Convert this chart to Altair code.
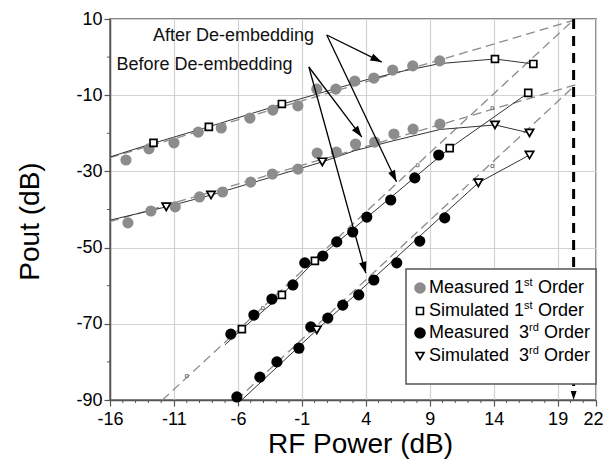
import math
import altair as alt
import pandas as pd

# ---------------- data ----------------
# measured 1st order (grey circles)
after_meas1_x = [-14.75, -12.95, -11.0, -9.1, -7.3, -5.06, -3.27, -1.31, 0.17, 1.66, 3.14, 4.63, 6.1, 7.67, 9.78]
after_meas1_y = [-27.0, -24.1, -22.5, -19.7, -18.6, -16.0, -13.9, -12.8, -8.4, -8.4, -6.3, -5.5, -3.4, -2.3, -1.0]
before_meas1_x = [-14.6, -12.8, -10.9, -9.0, -7.2, -5.0, -3.3, -1.3, 0.2, 1.7, 3.2, 4.7, 6.2, 7.7, 9.8]
before_meas1_y = [-43.5, -40.4, -39.3, -36.7, -35.4, -32.8, -30.7, -29.4, -25.2, -24.9, -22.8, -22.3, -20.2, -18.9, -17.6]
# measured 3rd order (black circles)
after_meas3_x = [-6.55, -4.75, -3.34, -1.70, -0.77, 0.64, 1.73, 2.98, 4.08, 5.95, 7.83, 9.70]
after_meas3_y = [-72.7, -67.7, -63.5, -59.8, -54.0, -52.2, -48.5, -45.9, -42.0, -37.5, -31.7, -25.7]
before_meas3_x = [-6.08, -4.28, -2.95, -1.23, -0.30, 1.03, 2.20, 3.45, 4.63, 6.42, 8.22, 10.17]
before_meas3_y = [-89.2, -84.0, -80.0, -76.4, -70.8, -68.5, -65.1, -62.4, -58.5, -54.0, -48.3, -42.2]

# simulated markers
after_sim1_x = [-12.6, -8.27, -2.56, 14.1, 17.1]
after_sim1_y = [-22.5, -18.3, -12.3, -0.5, -1.8]
after_sim3_x = [-5.69, -2.56, 0.02, 10.56, 16.7]
after_sim3_y = [-71.4, -62.4, -53.5, -23.9, -9.4]
before_sim1_x = [-11.6, -8.1, 0.6, 14.1, 16.8]
before_sim1_y = [-39.3, -36.2, -27.5, -17.8, -19.9]
before_sim3_x = [0.17, 12.8, 16.8]
before_sim3_y = [-71.6, -33.0, -25.7]

# simulated curves (solid thin lines)
after_curve1_x = [-16, -12.6, -8.3, -2.6, 1, 4, 7, 9.8, 14.1, 17.1]
after_curve1_y = [-26.2, -22.6, -18.3, -12.4, -8.9, -6.0, -3.6, -1.7, -0.5, -1.8]
before_curve1_x = [-16, -11.6, -8.1, 0.6, 3.1, 6.1, 9.8, 14.1, 16.8]
before_curve1_y = [-42.8, -39.3, -36.2, -27.5, -24.6, -22.0, -19.0, -17.8, -19.9]
after_curve3_x = [-7.0, -5.69, -2.56, 0.02, 10.56, 16.7]
after_curve3_y = [-75.5, -71.4, -62.4, -53.5, -23.9, -9.4]
before_curve3_x = [-5.7, 0.17, 12.8, 16.8]
before_curve3_y = [-90.0, -71.6, -33.0, -25.7]

# extrapolation (dashed) lines: start / end
after_fit1_x = [-16, 20.2]
after_fit1_y = [-26.4, 9.6]
after_fit3_x = [-11.9, 20.2]
after_fit3_y = [-90, 9.6]
before_fit1_x = [-16, 20.7]
before_fit1_y = [-43.2, -7.0]
before_fit3_x = [-6.1, 20.3]
before_fit3_y = [-90, -7.6]

# tiny simulation dots lying on the dashed lines
tiny_x = [-10.0, -4.05, 8.06, 13.9, 13.9]
tiny_y = [-83.7, -65.9, -28.4, -13.4, -28.6]

iip3_x = 20.25

# annotations
ann_labels = ["After De-embedding", "Before De-embedding"]
ann_label_x = [-12.64, -15.5]
ann_label_y = [5.5, -2.1]
arrow_x1 = [0.95, 0.95, -0.45, -0.45]
arrow_y1 = [5.8, 5.8, -2.6, -2.6]
arrow_x2 = [5.25, 6.4, 3.69, 4.0]
arrow_y2 = [-1.3, -32.7, -21.0, -56.7]

x_ticks = [-16, -11, -6, -1, 4, 9, 14, 19, 22]
y_ticks = [10, -10, -30, -50, -70, -90]
x_minor = [v for v in range(-15, 22) if v not in x_ticks]
y_minor = [0, -20, -40, -60, -80]

# ---------------- chart ----------------
W, H = 486, 381
XD, YD = [-16, 22], [-90, 10]
FONT = "Liberation Sans"
PX = W / (XD[1] - XD[0])
PY = H / (YD[1] - YD[0])

xs = alt.Scale(domain=XD, nice=False, zero=False)
ys = alt.Scale(domain=YD, nice=False, zero=False)
common_axis = dict(labelFontSize=18, titleFontSize=28, titleFontWeight="normal", tickSize=6,
                   labelFlush=False, labelOverlap=False, grid=True, gridColor="#d2d2d2",
                   gridWidth=1.2, domainColor="#555", domainWidth=1.5, tickColor="#555",
                   tickWidth=1.2, labelColor="black", titleColor="black", labelFont=FONT,
                   titleFont=FONT, titleBaseline="alphabetic",
                   labelExpr="toString(datum.value)")
last_x = x_ticks[-1]
xaxis = alt.Axis(values=x_ticks, title="RF Power (dB)", labelPadding=4,
                 labelAlign={"condition": {"test": f"datum.value == {last_x}", "value": "right"},
                             "value": "center"},
                 labelOffset={"condition": {"test": f"datum.value == {last_x}", "value": 7},
                              "value": 0},
                 titleX=250, titleY=52, **common_axis)
yaxis = alt.Axis(values=y_ticks, title="Pout (dB)", labelPadding=2,
                 titleX=-72, titleY=202, **common_axis)


def X(f="x"):
    return alt.X(f"{f}:Q", scale=xs, axis=xaxis)


def Y(f="y"):
    return alt.Y(f"{f}:Q", scale=ys, axis=yaxis)


def series(groups):
    rows = []
    for g, xv, yv in groups:
        for i, (a, b) in enumerate(zip(xv, yv)):
            rows.append({"grp": g, "x": a, "y": b, "o": i})
    return pd.DataFrame(rows)


dashed_df = series([("a1", after_fit1_x, after_fit1_y), ("a3", after_fit3_x, after_fit3_y),
                    ("b1", before_fit1_x, before_fit1_y), ("b3", before_fit3_x, before_fit3_y)])
curves_df = series([("a1", after_curve1_x, after_curve1_y), ("a3", after_curve3_x, after_curve3_y),
                    ("b1", before_curve1_x, before_curve1_y), ("b3", before_curve3_x, before_curve3_y)])

layers = []
layers.append(alt.Chart(dashed_df).mark_line(strokeDash=[9, 5], color="#8a8a8a", strokeWidth=1.3)
              .encode(x=X(), y=Y(), detail="grp:N", order="o:Q"))
layers.append(alt.Chart(curves_df).mark_line(color="#333333", strokeWidth=1)
              .encode(x=X(), y=Y(), detail="grp:N", order="o:Q"))
layers.append(alt.Chart(pd.DataFrame({"x": tiny_x, "y": tiny_y}))
              .mark_point(shape="square", size=8, color="#777", strokeWidth=1, opacity=1)
              .encode(x=X(), y=Y()))

grey_df = pd.DataFrame({"x": after_meas1_x + before_meas1_x, "y": after_meas1_y + before_meas1_y})
black_df = pd.DataFrame({"x": after_meas3_x + before_meas3_x, "y": after_meas3_y + before_meas3_y})
layers.append(alt.Chart(grey_df).mark_circle(size=125, color="#8c8c8c", opacity=1)
              .encode(x=X(), y=Y()))
layers.append(alt.Chart(black_df).mark_circle(size=125, color="black", opacity=1)
              .encode(x=X(), y=Y()))
sq_df = pd.DataFrame({"x": after_sim1_x + after_sim3_x, "y": after_sim1_y + after_sim3_y})
tri_df = pd.DataFrame({"x": before_sim1_x + before_sim3_x, "y": before_sim1_y + before_sim3_y})
layers.append(alt.Chart(sq_df).mark_point(shape="square", size=48, fill="white", fillOpacity=1,
                                          stroke="black", strokeWidth=1.7, opacity=1)
              .encode(x=X(), y=Y()))
layers.append(alt.Chart(tri_df).mark_point(shape="triangle-down", size=70, fill="white", fillOpacity=1,
                                           stroke="black", strokeWidth=1.7, opacity=1)
              .encode(x=X(), y=Y()))

# vertical IIP3 marker line with arrow
layers.append(alt.Chart(pd.DataFrame({"x": [iip3_x], "y": [YD[1]], "y2": [-88.5]}))
              .mark_rule(color="black", strokeWidth=3, strokeDash=[10, 7])
              .encode(x=X(), y=Y(), y2="y2:Q"))

ARROW = "M0,0L1.25,3.8L-1.25,3.8Z"
layers.append(alt.Chart(pd.DataFrame({"x": [iip3_x], "y": [YD[0]], "ang": [180]}))
              .mark_point(shape=ARROW, size=22, filled=True, color="black", opacity=1)
              .encode(x=X(), y=Y(), angle=alt.Angle("ang:Q", scale=None)))

# annotation arrows
angles = []
for a, b, c, d in zip(arrow_x1, arrow_y1, arrow_x2, arrow_y2):
    dxp = (c - a) * PX
    dyp = -(d - b) * PY
    angles.append(math.degrees(math.atan2(dxp, -dyp)) % 360)
arr_df = pd.DataFrame({"x": arrow_x1, "y": arrow_y1, "x2": arrow_x2, "y2": arrow_y2})
layers.append(alt.Chart(arr_df).mark_rule(color="black", strokeWidth=1.3)
              .encode(x=X(), y=Y(), x2="x2:Q", y2="y2:Q"))
head_df = pd.DataFrame({"x": arrow_x2, "y": arrow_y2, "ang": angles})
layers.append(alt.Chart(head_df).mark_point(shape=ARROW, size=36, filled=True, color="black", opacity=1)
              .encode(x=X(), y=Y(), angle=alt.Angle("ang:Q", scale=None)))
layers.append(alt.Chart(pd.DataFrame({"x": ann_label_x, "y": ann_label_y, "t": ann_labels}))
              .mark_text(align="left", baseline="middle", fontSize=18, font=FONT, color="#111")
              .encode(x=X(), y=Y(), text="t:N"))

# minor ticks
layers.append(alt.Chart(pd.DataFrame({"x": x_minor})).mark_rule(color="#555", strokeWidth=1)
              .encode(x=X(), y=alt.value(H), y2=alt.value(H + 3)))
layers.append(alt.Chart(pd.DataFrame({"y": y_minor})).mark_rule(color="#555", strokeWidth=1)
              .encode(y=Y(), x=alt.value(0), x2=alt.value(-3)))

# legend (drawn by hand, plot-pixel layout)
one = pd.DataFrame({"k": [0]})
layers.append(alt.Chart(one).mark_rect(fill="white", stroke="#555", strokeWidth=1.5)
              .encode(x=alt.value(296), x2=alt.value(486), y=alt.value(250), y2=alt.value(365)))
legend_items = [
    ("circle", "#8c8c8c", "#8c8c8c", "Measured 1", "st", 269, 414, 428),
    ("square", "white", "black", "Simulated 1", "st", 292, 414, 428),
    ("circle", "black", "black", "Measured\u00a0 3", "rd", 314, 419, 434),
    ("triangle-down", "white", "black", "Simulated\u00a0 3", "rd", 337, 419, 434),
]
for shape, fill, stroke, t1, sup, yy, xs_sup, x_ord in legend_items:
    size = 100 if shape == "circle" else (48 if shape == "square" else 65)
    layers.append(alt.Chart(one).mark_point(shape=shape, size=size, fill=fill, fillOpacity=1,
                                            stroke=stroke, strokeWidth=1.6, opacity=1)
                  .encode(x=alt.value(310), y=alt.value(yy)))
    layers.append(alt.Chart(one).mark_text(align="left", baseline="middle", fontSize=18, font=FONT,
                                           color="black", text=t1)
                  .encode(x=alt.value(319), y=alt.value(yy)))
    layers.append(alt.Chart(one).mark_text(align="left", baseline="middle", fontSize=11, font=FONT,
                                           color="black", text=sup)
                  .encode(x=alt.value(xs_sup), y=alt.value(yy - 5)))
    layers.append(alt.Chart(one).mark_text(align="left", baseline="middle", fontSize=18, font=FONT,
                                           color="black", text="Order")
                  .encode(x=alt.value(x_ord), y=alt.value(yy)))

chart = (alt.layer(*layers)
         .properties(width=W, height=H, autosize=alt.AutoSizeParams(type="none"),
                     padding={"left": 102, "top": 11, "right": 8, "bottom": 60},
                     background="white")
         .configure_view(stroke="#8a8a8a", strokeWidth=2))

chart.save("out.html", embed_options={"renderer": "svg", "actions": False})
